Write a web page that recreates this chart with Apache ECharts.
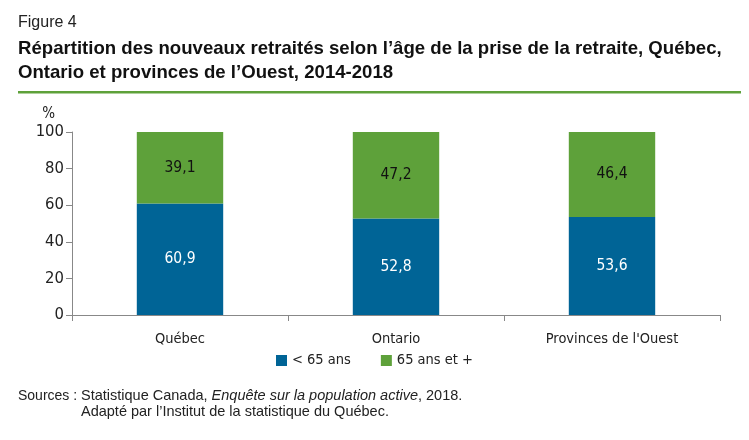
<!DOCTYPE html>
<html><head><meta charset="utf-8">
<script src="https://cdn.jsdelivr.net/npm/echarts@6/dist/echarts.min.js"></script>
<style>html,body{margin:0;padding:0;background:#fff}#c{width:749px;height:440px}</style>
</head><body><div id="c"></div>
<script>
const categories = ['Québec', 'Ontario', "Provinces de l'Ouest"];
const under65 = [60.9, 52.8, 53.6];
const over65 = [39.1, 47.2, 46.4];
const seriesNames = ['< 65 ans', '65 ans et +'];
const yTicks = [0, 20, 40, 60, 80, 100];

const narrow = '"DejaVu Sans Condensed", "Liberation Sans Narrow", sans-serif';
const sans = '"Liberation Sans", Arial, sans-serif';
const chart = echarts.init(document.getElementById('c'));
chart.setOption({
  animation: false,
  grid: {left: 72, right: 29, top: 132, bottom: 125},
  legend: {
    data: seriesNames, top: 348, left: 'center', itemWidth: 11, itemHeight: 11, itemGap: 30,
    icon: 'rect', textStyle: {fontFamily: narrow, fontSize: 14.5, color: '#222'}
  },
  xAxis: {
    type: 'category', data: categories,
    axisLine: {lineStyle: {color: '#888', width: 1}},
    axisTick: {show: true, alignWithLabel: false, length: 6, lineStyle: {color: '#888'}},
    axisLabel: {fontFamily: narrow, fontSize: 14.5, color: '#222', margin: 17}
  },
  yAxis: {
    type: 'value', min: yTicks[0], max: yTicks[yTicks.length - 1], interval: 20,
    name: '%', nameLocation: 'end', nameGap: 10,
    nameTextStyle: {fontFamily: narrow, fontSize: 15, color: '#222', align: 'right', padding: [0, 17, 0, 0]},
    axisLine: {show: true, lineStyle: {color: '#888'}},
    axisTick: {show: true, length: 6, lineStyle: {color: '#888'}},
    splitLine: {show: false},
    axisLabel: {fontFamily: narrow, fontSize: 16.5, color: '#222', margin: 8}
  },
  series: [
    {name: seriesNames[0], type: 'bar', stack: 'a', data: under65, barWidth: '40%',
     itemStyle: {color: '#006496'},
     label: {show: true, position: 'inside', color: '#fff', fontFamily: narrow, fontSize: 15.5,
       formatter: p => String(p.value).replace('.', ',')}},
    {name: seriesNames[1], type: 'bar', stack: 'a', data: over65, barWidth: '40%',
     itemStyle: {color: '#5ea13a'},
     label: {show: true, position: 'inside', color: '#111', fontFamily: narrow, fontSize: 15.5,
       formatter: p => String(p.value).replace('.', ',')}}
  ],
  graphic: [
    {type: 'text', left: 18, top: 15, style: {text: 'Figure 4', fontFamily: sans, fontSize: 16, fill: '#222'}},
    {type: 'text', left: 18, top: 37, style: {text: "Répartition des nouveaux retraités selon l’âge de la prise de la retraite, Québec,\nOntario et provinces de l’Ouest, 2014-2018", fontFamily: sans, fontSize: 18.6, fontWeight: 'bold', lineHeight: 24, fill: '#111'}},
    {type: 'rect', shape: {x: 18, y: 91, width: 723, height: 2.5}, style: {fill: '#5ea13a'}},
    {type: 'text', left: 18, top: 389, style: {text: 'Sources :', fontFamily: sans, fontSize: 14, fill: '#222'}},
    {type: 'text', left: 81, top: 388, style: {
      rich: {n: {fontFamily: sans, fontSize: 14.5, fill: '#222'}, i: {fontFamily: sans, fontSize: 14.5, fontStyle: 'italic', fill: '#222'}},
      text: '{n|Statistique Canada, }{i|Enquête sur la population active}{n|, 2018.}', fill: '#222'}},
    {type: 'text', left: 81, top: 404, style: {text: "Adapté par l’Institut de la statistique du Québec.", fontFamily: sans, fontSize: 14.5, fill: '#222'}}
  ]
});
</script></body></html>
